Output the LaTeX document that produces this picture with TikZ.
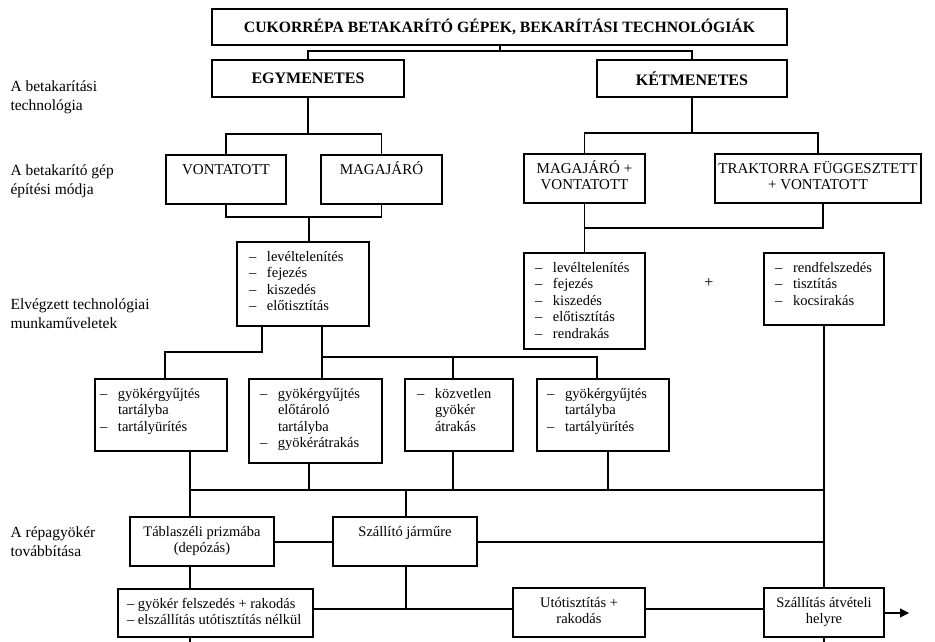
\documentclass[tikz,border=0pt]{standalone}
\usepackage{fontspec}
\setmainfont{Liberation Serif}
\usetikzlibrary{arrows.meta}
% box with top-aligned text of fixed size
\newcommand\BX[6]{\node[bx] (#1) at ({(#2+#4)/2},{(#3+#5)/2}) {\parbox[c][\dimexpr#5pt-#3pt\relax][t]{\dimexpr#4pt-#2pt\relax}{#6}};}
% box with vertically centred text
\newcommand\CB[6]{\node[bx, minimum width={#4-#2}, minimum height={#5-#3}] (#1) at ({(#2+#4)/2},{(#3+#5)/2}) {#6};}
\newcommand\CT[1]{\centering\rule{0pt}{19pt}#1}
\newcommand\CTC[1]{\centering\fontsize{15pt}{16.5pt}\selectfont\rule{0pt}{19pt}#1}
\newcommand\LI[2][11pt]{\raggedright\leftskip=#1\rule{0pt}{19pt}#2}
\newcommand\dd{\makebox[18pt][l]{–}}
\newcommand\ii{\hspace*{18pt}}
\begin{document}
\begin{tikzpicture}[x=1pt,y=-1pt,line width=1.1pt,
  bx/.style={draw,inner sep=0pt,outer sep=0pt},
  every node/.append style={font=\fontsize{14.5pt}{16.5pt}\selectfont},
  lbl/.style={inner sep=0pt,anchor=west,align=left,font=\fontsize{15.5pt}{19pt}\selectfont}]
\useasboundingbox (0,0) rectangle (935,642);

% left labels
\node[lbl] (l1) at (10,97) {A betakarítási\\technológia};
\node[lbl] (l2) at (10,181) {A betakarító gép\\építési módja};
\node[lbl] (l3) at (10,314) {Elvégzett technológiai\\munkaműveletek};
\node[lbl] (l4) at (10,542) {A répagyökér\\továbbítása};

% boxes
\CB{title}{212}{9}{787}{45}{\fontsize{15.7pt}{18pt}\selectfont\bfseries CUKORRÉPA BETAKARÍTÓ GÉPEK, BEKARÍTÁSI TECHNOLÓGIÁK}
\CB{egy}{212}{60}{404}{97}{\fontsize{16pt}{18pt}\selectfont\bfseries EGYMENETES}
\CB{ket}{597}{60}{787}{97}{\fontsize{16pt}{18pt}\selectfont\bfseries KÉTMENETES}

\BX{vont}{166}{155}{286}{204}{\CTC{VONTATOTT}}
\BX{maga}{321}{155}{442}{204}{\CTC{MAGAJÁRÓ}}
\BX{mv}{524}{154}{645}{203}{\CTC{MAGAJÁRÓ +\\VONTATOTT}}
\BX{tf}{715}{154}{921}{203}{\CTC{TRAKTORRA FÜGGESZTETT\\+ VONTATOTT}}

\BX{lev1}{237}{242}{369}{326}{\LI[12pt]{\dd levéltelenítés\\\dd fejezés\\\dd kiszedés\\\dd előtisztítás}}
\BX{lev2}{524}{253}{645}{349}{\LI[11pt]{\dd levéltelenítés\\\dd fejezés\\\dd kiszedés\\\dd előtisztítás\\\dd rendrakás}}
\BX{rb}{764}{253}{884}{325}{\LI[11pt]{\dd rendfelszedés\\\dd tisztítás\\\dd kocsirakás}}
\node (plus) at (709,283) {\fontsize{16pt}{18pt}\selectfont +};

\BX{g1}{95}{379}{227}{451}{\LI[5pt]{\dd gyökérgyűjtés\\\ii tartályba\\\dd tartályürítés}}
\BX{g2}{249}{379}{382}{463}{\LI[11pt]{\dd gyökérgyűjtés\\\ii előtároló\\\ii tartályba\\\dd gyökérátrakás}}
\BX{g3}{405}{379}{513}{451}{\LI[12pt]{\dd közvetlen\\\ii gyökér\\\ii átrakás}}
\BX{g4}{537}{379}{669}{451}{\LI[10pt]{\dd gyökérgyűjtés\\\ii tartályba\\\dd tartályürítés}}

\BX{tab}{130}{517}{274}{566}{\CT{Táblaszéli prizmába\\(depózás)}}
\BX{szj}{333}{517}{477}{566}{\CT{Szállító járműre}}

\BX{gy}{118}{589}{313}{637}{\LI[9pt]{– gyökér felszedés + rakodás\\– elszállítás utótisztítás nélkül}}
\BX{uto}{513}{588}{645}{637}{\CT{Utótisztítás +\\rakodás}}
\BX{szal}{764}{588}{884}{637}{\CT{Szállítás átvételi\\helyre}}

% connectors
\coordinate (J0) at (500,51);
\draw (title.south -| J0) -- (J0);
\draw (egy.north) |- (J0) -| (ket.north);
\coordinate (J1) at (308,134);
\draw (egy.south) -- (J1);
\draw (vont.north) |- (J1) -| (maga.north);
\coordinate (J2) at (309,217);
\draw (vont.south) |- (J2) -| (maga.south);
\draw (J2) -- (J2 |- lev1.north);
\coordinate (J3) at (692,133);
\draw (ket.south) -- (J3);
\draw (mv.north) |- (J3) -| (tf.north);
\draw (mv.south) -- (lev2.north);
\coordinate (J4) at (823,228);
\draw (tf.south -| J4) -- (J4) -- (J4 -| mv.south);

\coordinate (J5) at (262,352);
\coordinate (J5b) at (165,352);
\draw (lev1.south -| J5) -- (J5) -- (J5b) -- (J5b |- g1.north);
\coordinate (J6) at (322,357);
\coordinate (J6m) at (453,357);
\coordinate (J6r) at (597,357);
\draw (lev1.south -| J6) -- (J6 |- g2.north);
\draw (J6) -- (J6r) -- (J6r |- g4.north);
\draw (J6m) -- (J6m |- g3.north);

\coordinate (B1) at (190,490);
\coordinate (B2) at (309,490);
\coordinate (B3) at (453,490);
\coordinate (B4) at (608,490);
\coordinate (BS) at (406,490);
\draw (g1.south -| B1) -- (B1 |- tab.north);
\draw (g2.south -| B2) -- (B2);
\draw (g3.south -| B3) -- (B3);
\draw (g4.south -| B4) -- (B4);
\draw (B1) -- (B1 -| rb.south);
\draw (BS) -- (BS |- szj.north);
\draw (rb.south) -- (szal.north);
\coordinate (J8) at (300,542);
\draw (tab.east |- J8) -- (szj.west |- J8);
\draw (szj.east |- J8) -- (J8 -| rb.south);
\draw (tab.south -| B1) -- (B1 |- gy.north);
\coordinate (J7) at (406,609);
\draw (szj.south -| J7) -- (J7);
\draw (gy.east |- J7) -- (uto.west |- J7);
\draw (uto.east |- J7) -- (szal.west |- J7);
\coordinate (AR) at (909,613);
\draw[-{Triangle[length=9pt,width=9pt]}] (szal.east |- AR) -- (AR);
\coordinate (E1) at (190,642);
\draw (gy.south -| E1) -- (E1);
\draw (szal.south) -- (szal.south |- E1);
\end{tikzpicture}
\end{document}
